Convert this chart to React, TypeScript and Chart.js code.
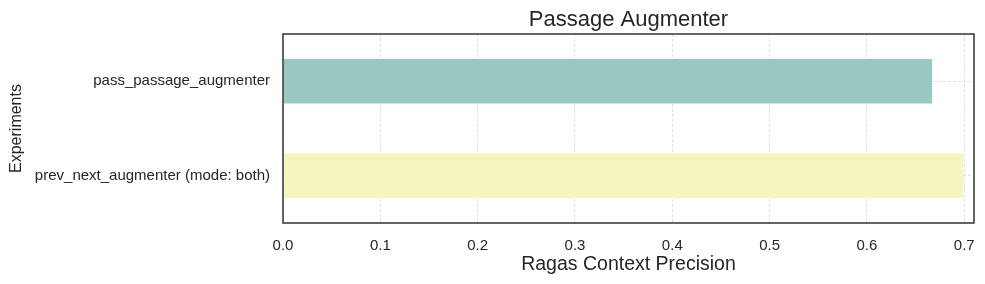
import React, { useEffect, useRef } from "react";
import { Chart, registerables } from "chart.js";

Chart.register(...registerables);

const categories = ["pass_passage_augmenter", "prev_next_augmenter (mode: both)"];
const precisionValues = [0.668, 0.7];
const barColors = ["#98c8c1", "#f5f5c0"];
const xTicks = [0, 0.1, 0.2, 0.3, 0.4, 0.5, 0.6, 0.7];
const titleText = "Passage Augmenter";
const xTitle = "Ragas Context Precision";
const yTitle = "Experiments";

const FONT = "'Liberation Sans', Arial, sans-serif";

export default function App() {
  const ref = useRef<HTMLCanvasElement | null>(null);
  useEffect(() => {
    document.body.style.margin = "0";
    const canvas = ref.current!;
    const framePlugin = {
      id: "frame",
      afterDraw(chart: any) {
        const { ctx, chartArea } = chart;
        ctx.save();
        ctx.strokeStyle = "#333333";
        ctx.lineWidth = 1.5;
        ctx.strokeRect(chartArea.left, chartArea.top, chartArea.right - chartArea.left, chartArea.bottom - chartArea.top);
        ctx.fillStyle = "#262626";
        ctx.font = `22px ${FONT}`;
        ctx.textAlign = "center";
        ctx.textBaseline = "alphabetic";
        ctx.fillText(titleText, (chartArea.left + chartArea.right) / 2, 26);
        ctx.restore();
      },
    };
    const chart = new Chart(canvas, {
      type: "bar",
      data: {
        labels: categories,
        datasets: [
          {
            data: precisionValues,
            backgroundColor: barColors,
            borderColor: "rgba(255,255,255,0.35)",
            borderWidth: 1,
            categoryPercentage: 1,
            barPercentage: 0.49,
          },
        ],
      },
      options: {
        indexAxis: "y",
        animation: false,
        responsive: false,
        devicePixelRatio: 1,
        layout: { padding: { top: 34, right: 11, left: 0, bottom: 0 } },
        plugins: { legend: { display: false }, tooltip: { enabled: false }, title: { display: false } },
        scales: {
          x: {
            type: "linear",
            min: 0,
            max: 0.71,
            afterBuildTicks: (s: any) => {
              s.ticks = xTicks.map((v) => ({ value: v }));
            },
            ticks: {
              callback: (v: any) => Number(v).toFixed(1),
              color: "#262626",
              font: { family: FONT, size: 15 },
              padding: 13.5,
              maxRotation: 0,
              autoSkip: false,
            },
            grid: { color: "#d6d6d6", lineWidth: 0.8, drawTicks: false },
            border: { display: false, dash: [3, 2] },
            title: {
              display: true,
              text: xTitle,
              color: "#262626",
              font: { family: FONT, size: 19.5 },
              padding: { top: 0, bottom: 8 },
            },
            afterFit: (s: any) => {
              s.height = 284 - 223;
              s.paddingLeft = 0;
              s.paddingRight = 0;
            },
          },
          y: {
            type: "category",
            offset: true,
            ticks: {
              color: "#262626",
              font: { family: FONT, size: 15 },
              padding: 13,
            },
            grid: { color: "#d6d6d6", lineWidth: 0.8, drawTicks: false, offset: false },
            border: { display: false, dash: [3, 2] },
            title: {
              display: true,
              text: yTitle,
              color: "#262626",
              font: { family: FONT, size: 16 },
              padding: { top: 6.5, bottom: 0 },
            },
            afterFit: (s: any) => {
              s.width = 283;
              s.paddingTop = 0;
              s.paddingBottom = 0;
            },
          },
        },
      },
      plugins: [framePlugin],
    } as any);
    return () => chart.destroy();
  }, []);
  return <canvas ref={ref} width={985} height={284} style={{ display: "block" }} />;
}
